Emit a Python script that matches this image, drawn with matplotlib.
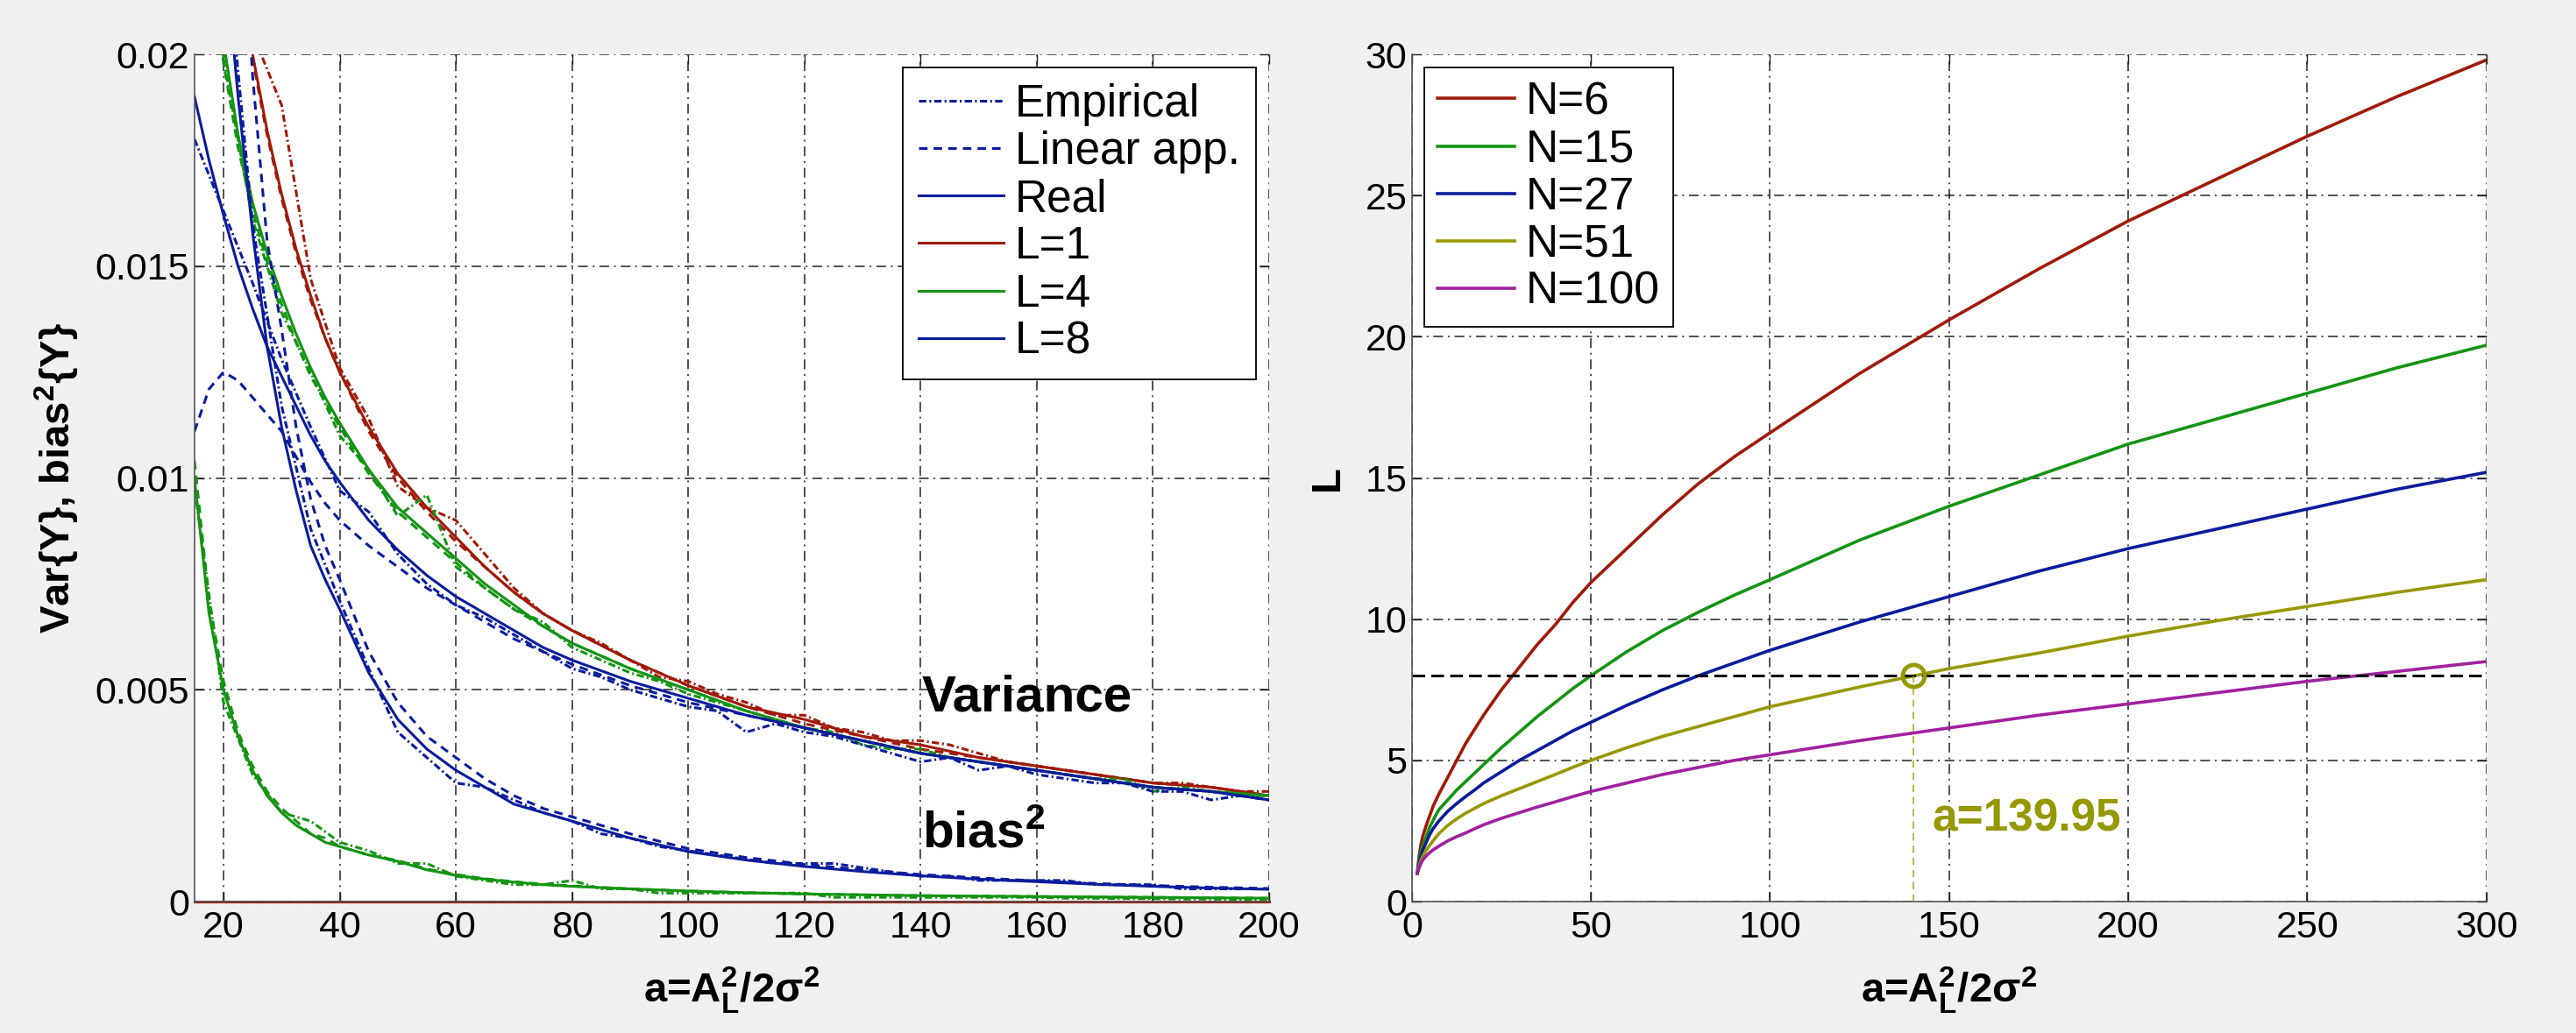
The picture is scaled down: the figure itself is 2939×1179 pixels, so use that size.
import matplotlib
matplotlib.use("Agg")
import matplotlib.pyplot as plt
from matplotlib.lines import Line2D

plt.rcParams['font.family'] = ['Liberation Sans', 'DejaVu Sans']
plt.rcParams['mathtext.fontset'] = 'custom'
plt.rcParams['mathtext.rm'] = 'Liberation Sans'
plt.rcParams['mathtext.bf'] = 'Liberation Sans:bold'
plt.rcParams['mathtext.it'] = 'Liberation Sans:italic'
plt.rcParams['lines.scale_dashes'] = False

# ---- left panel: variance and bias^2 vs a ----
a_var = [15, 17.5, 20, 22.5, 25, 27.5, 30, 32.5, 35, 37.5, 40, 45, 50, 55, 60, 65, 70, 75, 80,
         90, 100, 110, 120, 130, 140, 150, 160, 170, 180, 190, 200]

var_real_L1 = [0.0333, 0.0286, 0.0250, 0.0222, 0.0200, 0.0182, 0.0167, 0.0154, 0.0143, 0.0133, 0.0125,
               0.0112, 0.0101, 0.0093, 0.0086, 0.0079, 0.0073, 0.0068, 0.0064, 0.0057, 0.0051, 0.0046,
               0.0043, 0.0039, 0.0037, 0.0034, 0.0032, 0.0030, 0.0028, 0.0027, 0.0025]
var_lin_L1 = [0.0330, 0.0283, 0.0248, 0.0221, 0.0199, 0.0181, 0.0166, 0.0153, 0.0142, 0.0133, 0.0125,
              0.0111, 0.0100, 0.0092, 0.0085, 0.0079, 0.0073, 0.0068, 0.0064, 0.0057, 0.0051, 0.0046,
              0.0042, 0.0039, 0.0036, 0.0034, 0.0032, 0.0030, 0.0028, 0.0027, 0.0025]
var_real_L4 = [0.0280, 0.0235, 0.0203, 0.0181, 0.0165, 0.0153, 0.0143, 0.0134, 0.0126, 0.0119, 0.0113,
               0.0102, 0.0093, 0.0087, 0.0081, 0.0075, 0.0070, 0.0065, 0.0061, 0.0055, 0.0050, 0.0045,
               0.0041, 0.0038, 0.0035, 0.0033, 0.0031, 0.0029, 0.0027, 0.0026, 0.0025]
var_lin_L4 = [0.0272, 0.0228, 0.0198, 0.0178, 0.0163, 0.0151, 0.0141, 0.0132, 0.0124, 0.0118, 0.0112,
              0.0101, 0.0092, 0.0086, 0.0080, 0.0074, 0.0069, 0.0065, 0.0061, 0.0055, 0.0050, 0.0045,
              0.0041, 0.0038, 0.0035, 0.0033, 0.0031, 0.0029, 0.0027, 0.0026, 0.0025]
var_real_L8 = [0.0190, 0.0175, 0.0162, 0.0150, 0.0140, 0.0131, 0.0124, 0.0117, 0.0110, 0.0104, 0.0099,
               0.0090, 0.0083, 0.0077, 0.0072, 0.0068, 0.0064, 0.0060, 0.0057, 0.0052, 0.0048, 0.0044,
               0.0041, 0.0038, 0.0035, 0.0033, 0.0031, 0.0029, 0.0027, 0.0026, 0.0024]
var_lin_L8 = [0.0111, 0.0121, 0.0125, 0.0123, 0.0119, 0.0115, 0.0111, 0.0105, 0.0099, 0.0094, 0.0090,
              0.0084, 0.0079, 0.0074, 0.0070, 0.0066, 0.0062, 0.0059, 0.0056, 0.0051, 0.0047, 0.0044,
              0.0041, 0.0038, 0.0035, 0.0033, 0.0031, 0.0029, 0.0027, 0.0026, 0.0024]

bias_real_L1 = [0.0] * 31
bias_real_L4 = [0.0100, 0.0068, 0.0050, 0.0039, 0.0031, 0.0025, 0.0021, 0.0018, 0.0016, 0.0014, 0.0013,
                0.0011, 0.00095, 0.00075, 0.00062, 0.00053, 0.00046, 0.00040, 0.00036, 0.00030, 0.00025,
                0.00021, 0.00018, 0.00016, 0.00014, 0.00013, 0.00012, 0.00011, 0.00010, 0.00009, 0.00008]
bias_lin_L4 = [0.0104, 0.0071, 0.0052, 0.0040, 0.0032, 0.0026, 0.0022, 0.0019, 0.0016, 0.0015, 0.0013,
               0.0011, 0.00097, 0.00077, 0.00064, 0.00054, 0.00047, 0.00041, 0.00037, 0.00030, 0.00025,
               0.00021, 0.00018, 0.00016, 0.00014, 0.00013, 0.00012, 0.00011, 0.00010, 0.00009, 0.00008]
bias_real_L8 = [0.0340, 0.0280, 0.0228, 0.0190, 0.0158, 0.0131, 0.0112, 0.0097, 0.0084, 0.0076, 0.0069,
                0.0054, 0.0043, 0.0036, 0.0031, 0.0027, 0.0023, 0.0021, 0.0019, 0.0015, 0.00118, 0.00098,
                0.00083, 0.00071, 0.00061, 0.00053, 0.00047, 0.00041, 0.00036, 0.00032, 0.00029]
bias_lin_L8 = [0.0450, 0.0380, 0.0310, 0.0250, 0.0195, 0.0156, 0.0135, 0.0112, 0.0095, 0.0084, 0.0076,
               0.0059, 0.0047, 0.0039, 0.0034, 0.0029, 0.0025, 0.0022, 0.0020, 0.0016, 0.00125, 0.00104,
               0.00088, 0.00075, 0.00064, 0.00056, 0.00049, 0.00043, 0.00038, 0.00034, 0.00031]

# empirical (simulated) curves, every 5 units
a_emp = list(range(15, 205, 5))
emp_var_L1 = [0.0335, 0.0252, 0.0205, 0.0188, 0.0147, 0.0126, 0.0114, 0.0098, 0.0093, 0.0090, 0.0082,
              0.0074, 0.0068, 0.0064, 0.0061, 0.0057, 0.0053, 0.0052, 0.0049, 0.0047, 0.0044, 0.0044,
              0.0041, 0.0040, 0.0038, 0.0038, 0.0037, 0.0035, 0.0033, 0.0032, 0.0031, 0.0030, 0.0029,
              0.0028, 0.0028, 0.0027, 0.0026, 0.0026]
emp_var_L4 = [0.0285, 0.0199, 0.0161, 0.0139, 0.0125, 0.0110, 0.0102, 0.0091, 0.0096, 0.0079, 0.0074,
              0.0069, 0.0066, 0.0060, 0.0057, 0.0054, 0.0052, 0.0049, 0.0047, 0.0045, 0.0043, 0.0041,
              0.0040, 0.0037, 0.0036, 0.0036, 0.0034, 0.0033, 0.0032, 0.0031, 0.0030, 0.0029, 0.0029,
              0.0026, 0.0027, 0.0026, 0.0025, 0.0025]
emp_var_L8 = [0.0180, 0.0163, 0.0146, 0.0128, 0.0112, 0.0097, 0.0092, 0.0082, 0.0075, 0.0070, 0.0067,
              0.0063, 0.0059, 0.0055, 0.0053, 0.0050, 0.0048, 0.0046, 0.0045, 0.0040, 0.0042, 0.0040,
              0.0039, 0.0037, 0.0035, 0.0033, 0.0034, 0.0031, 0.0032, 0.0030, 0.0029, 0.0028, 0.0028,
              0.0026, 0.0026, 0.0024, 0.0025, 0.0024]
emp_bias_L1 = [0.0] * 38
emp_bias_L4 = [0.0098, 0.0047, 0.0030, 0.0021, 0.0019, 0.0014, 0.0012, 0.0009, 0.0009, 0.0006, 0.0005,
               0.0004, 0.0004, 0.0005, 0.0003, 0.0003, 0.0002, 0.0002, 0.0002, 0.0002, 0.0002, 0.0002,
               0.0001, 0.0001, 0.0001, 0.0001, 0.0001, 0.0001, 0.0001, 0.0001, 0.00008, 0.00008, 0.00007,
               0.00007, 0.00006, 0.00006, 0.00005, 0.00005]
emp_bias_L8 = [0.0345, 0.0232, 0.0160, 0.0117, 0.0088, 0.0071, 0.0055, 0.0040, 0.0034, 0.0028, 0.0027,
               0.0024, 0.0021, 0.0019, 0.0016, 0.0015, 0.0013, 0.0012, 0.0011, 0.0010, 0.0009, 0.0009,
               0.0009, 0.0008, 0.0007, 0.0006, 0.0006, 0.0005, 0.0005, 0.0005, 0.0005, 0.0004, 0.0004,
               0.0004, 0.0003, 0.0003, 0.0003, 0.0003]

# ---- right panel: L vs a for several N ----
a_L = [1.5, 2, 2.5, 3, 4, 5, 6, 7.5, 10, 12.5, 15, 17.5, 20, 25, 30, 35, 40, 45, 50, 60, 70, 80, 90,
       100, 125, 150, 175, 200, 225, 250, 275, 300]
L_N6 = [1.0, 1.6, 2.0, 2.3, 2.7, 3.05, 3.4, 3.8, 4.4, 5.0, 5.6, 6.1, 6.6, 7.5, 8.3, 9.1, 9.8, 10.6,
        11.3, 12.5, 13.7, 14.8, 15.75, 16.6, 18.7, 20.6, 22.4, 24.1, 25.6, 27.1, 28.5, 29.8]
L_N15 = [1.0, 1.45, 1.75, 1.95, 2.3, 2.65, 2.9, 3.25, 3.6, 3.95, 4.25, 4.55, 4.85, 5.45, 6.0, 6.55,
         7.05, 7.55, 8.0, 8.85, 9.6, 10.25, 10.85, 11.4, 12.8, 14.0, 15.1, 16.2, 17.1, 18.0, 18.9, 19.7]
L_N27 = [1.0, 1.35, 1.6, 1.8, 2.1, 2.38, 2.6, 2.85, 3.2, 3.47, 3.72, 3.95, 4.2, 4.6, 5.0, 5.35, 5.7,
         6.05, 6.35, 6.95, 7.5, 8.0, 8.45, 8.9, 9.9, 10.8, 11.7, 12.5, 13.2, 13.9, 14.6, 15.2]
L_N51 = [1.0, 1.25, 1.45, 1.6, 1.82, 2.0, 2.17, 2.4, 2.7, 2.93, 3.13, 3.3, 3.47, 3.75, 4.0, 4.25, 4.5,
         4.76, 5.0, 5.45, 5.85, 6.2, 6.55, 6.9, 7.6, 8.25, 8.8, 9.4, 9.95, 10.45, 10.95, 11.4]
L_N100 = [1.0, 1.2, 1.35, 1.47, 1.62, 1.74, 1.84, 1.96, 2.15, 2.3, 2.43, 2.58, 2.72, 2.95, 3.15, 3.35,
          3.53, 3.72, 3.9, 4.2, 4.5, 4.75, 5.0, 5.2, 5.7, 6.15, 6.6, 7.0, 7.4, 7.8, 8.15, 8.5]
N_labels = ["N=6", "N=15", "N=27", "N=51", "N=100"]
L_target = 8
a_star = 139.95

red = '#a01a08'
green = '#139413'
blue = '#0a1c9c'
olive = '#979700'
purple = '#a0209f'
dash = (0, (7, 5))
dashdot = (0, (6, 2.5, 1.5, 2.5))
grid_ls = (0, (8, 4, 1.5, 4))


def style_axes(ax):
    ax.set_facecolor('white')
    ax.grid(True, color='#222222', linestyle=grid_ls, linewidth=1.1)
    ax.set_axisbelow(True)
    ax.tick_params(direction='in', length=8, width=1, top=True, right=True,
                   labelsize=31, color='#222222')
    ax.tick_params(axis='y', pad=4)
    ax.tick_params(axis='x', pad=7)
    for s in ['top', 'right']:
        ax.spines[s].set_visible(False)
    for s in ['left', 'bottom']:
        ax.spines[s].set_color('#555555')
        ax.spines[s].set_linewidth(1.2)


fig = plt.figure(figsize=(29.39, 11.79), dpi=100, facecolor='#f0f0f0')
ax1 = fig.add_axes([0.0755, 0.1272, 0.4172, 0.8202])
ax2 = fig.add_axes([0.5481, 0.1272, 0.4171, 0.8202])

lw = 2.2
curves = [(var_real_L1, var_lin_L1, emp_var_L1, red),
          (var_real_L4, var_lin_L4, emp_var_L4, green),
          (var_real_L8, var_lin_L8, emp_var_L8, blue),
          (bias_real_L1, bias_real_L1, emp_bias_L1, red),
          (bias_real_L4, bias_lin_L4, emp_bias_L4, green),
          (bias_real_L8, bias_lin_L8, emp_bias_L8, blue)]
for real, lin, emp, c in curves:
    clip = max(real) > 0
    ax1.plot(a_emp, emp, color=c, lw=lw, linestyle=dashdot, clip_on=clip)
    ax1.plot(a_var, lin, color=c, lw=lw, linestyle=dash, clip_on=clip)
    ax1.plot(a_var, real, color=c, lw=lw, linestyle='-', clip_on=clip)

ax1.set_xlim(15, 200)
ax1.set_ylim(0, 0.02)
ax1.set_xticks(range(20, 201, 20))
ax1.set_yticks([0, 0.005, 0.01, 0.015, 0.02])
ax1.set_yticklabels(['0', '0.005', '0.01', '0.015', '0.02'])
style_axes(ax1)

ax1.text(140.2, 0.00449, 'Variance', fontsize=42, fontweight='bold')
ax1.text(140.2, 0.00128, 'bias$^\\mathbf{2}$', fontsize=42, fontweight='bold')

handles = [Line2D([], [], color=blue, lw=lw, linestyle=dashdot),
           Line2D([], [], color=blue, lw=lw, linestyle=dash),
           Line2D([], [], color=blue, lw=lw),
           Line2D([], [], color=red, lw=lw),
           Line2D([], [], color=green, lw=lw),
           Line2D([], [], color=blue, lw=lw)]
names = ['Empirical', 'Linear app.', 'Real', 'L=1', 'L=4', 'L=8']
leg = ax1.legend(handles, names, loc='upper right', bbox_to_anchor=(0.9878, 0.9845),
                 borderaxespad=0, fontsize=37, fancybox=False, framealpha=1,
                 edgecolor='black', handlelength=1.9, handletextpad=0.25,
                 labelspacing=0.1, borderpad=0.35)
leg.get_frame().set_linewidth(1.3)

ax1.set_xlabel('a=A$_\\mathbf{L}^\\mathbf{2}$/2σ$^\\mathbf{2}$', fontsize=34, fontweight='bold')
ax1.set_ylabel('Var{Y}, bias$^\\mathbf{2}${Y}', fontsize=34, fontweight='bold')
ax1.xaxis.set_label_coords(0.5, -0.075)
ax1.yaxis.set_label_coords(-0.105, 0.5)

lw2 = 2.6
for vals, c, name in zip([L_N6, L_N15, L_N27, L_N51, L_N100],
                         [red, green, blue, olive, purple], N_labels):
    ax2.plot(a_L, vals, color=c, lw=lw2, label=name)

ax2.axhline(L_target, color='black', lw=2.2, linestyle=(0, (10.5, 5)))
ax2.plot([a_star, a_star], [0, L_target], color=olive, lw=1.2, linestyle=(0, (6, 4)), alpha=0.8)
ax2.plot([a_star], [L_target], marker='o', markersize=18, markerfacecolor='none',
         markeredgecolor=olive, markeredgewidth=3.5, linestyle='none')
ax2.text(145.3, 2.5, 'a=%.2f' % a_star, color=olive, fontsize=37, fontweight='bold')

ax2.set_xlim(0, 300)
ax2.set_ylim(0, 30)
ax2.set_xticks(range(0, 301, 50))
ax2.set_yticks(range(0, 31, 5))
style_axes(ax2)

leg2 = ax2.legend(loc='upper left', bbox_to_anchor=(0.0114, 0.9845), borderaxespad=0,
                  fontsize=37, fancybox=False, framealpha=1, edgecolor='black',
                  handlelength=1.7, handletextpad=0.25, labelspacing=0.1, borderpad=0.3)
leg2.get_frame().set_linewidth(1.3)

ax2.set_xlabel('a=A$_\\mathbf{L}^\\mathbf{2}$/2σ$^\\mathbf{2}$', fontsize=34, fontweight='bold')
ax2.set_ylabel('L', fontsize=34, fontweight='bold')
ax2.xaxis.set_label_coords(0.5, -0.075)
ax2.yaxis.set_label_coords(-0.06, 0.5)

fig.savefig('out.png', dpi=100, facecolor=fig.get_facecolor())
